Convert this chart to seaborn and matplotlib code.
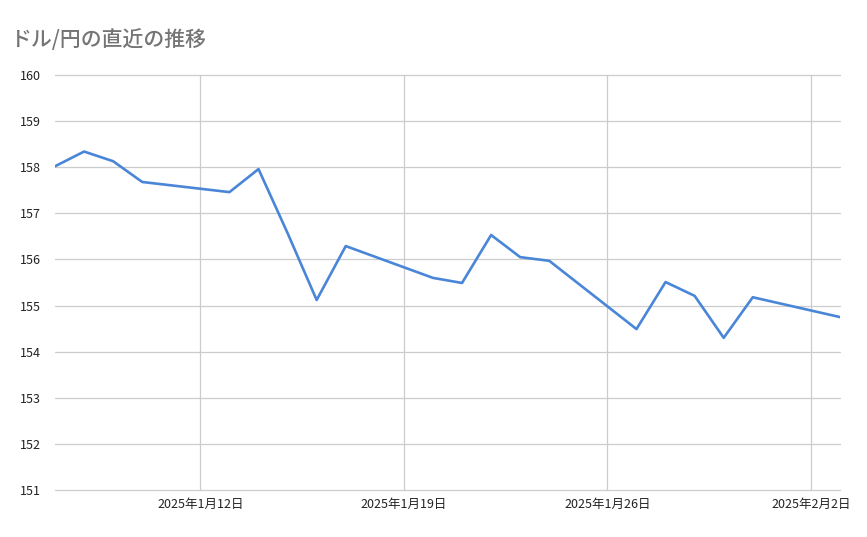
import matplotlib
matplotlib.use('Agg')
import matplotlib.pyplot as plt
import numpy as np
import pandas as pd
import seaborn as sns

# ── Data ─────────────────────────────────────────────────────────────────
dates = ['2025-01-07', '2025-01-08', '2025-01-09', '2025-01-10',
         '2025-01-13', '2025-01-14', '2025-01-15', '2025-01-16', '2025-01-17',
         '2025-01-20', '2025-01-21', '2025-01-22', '2025-01-23', '2025-01-24',
         '2025-01-27', '2025-01-28', '2025-01-29', '2025-01-30', '2025-01-31',
         '2025-02-03']
rates = [158.02, 158.34, 158.13, 157.68,
         157.46, 157.96, 156.57, 155.12, 156.29,
         155.60, 155.49, 156.53, 156.05, 155.97,
         154.49, 155.51, 155.21, 154.30, 155.18,
         154.75]
tick_dates = ['2025-01-12', '2025-01-19', '2025-01-26', '2025-02-02']
tick_labels = ['2025年1月12日', '2025年1月19日', '2025年1月26日', '2025年2月2日']
y_ticks = list(range(151, 161))

df = pd.DataFrame({'date': pd.to_datetime(dates), 'rate': rates})

# ── Style ────────────────────────────────────────────────────────────────
BLUE = '#4a86d8'
GRID = '#cccccc'
sns.set_theme(style='white')
plt.rcParams['font.family'] = ['Noto Sans CJK JP', 'DejaVu Sans']

fig = plt.figure(figsize=(8.67, 5.37), dpi=100)
ax = fig.add_axes([55 / 867, 1 - 490 / 537, 785 / 867, 415 / 537])

sns.lineplot(data=df, x='date', y='rate', color=BLUE, lw=1.9, ax=ax)

ax.set_xlim(pd.Timestamp(dates[0]), pd.Timestamp(dates[-1]))
ax.set_ylim(151, 160)
ax.set_yticks(y_ticks)
ax.set_yticklabels([str(v) for v in y_ticks], fontsize=9, color='#222222')
ax.set_xticks(pd.to_datetime(tick_dates))
ax.set_xticklabels(tick_labels, fontsize=9, color='#222222')
ax.grid(True, color=GRID, lw=0.9)
for gl in ax.get_ygridlines() + ax.get_xgridlines():
    gl.set_clip_on(False)
ax.set_axisbelow(True)
for s in ax.spines.values():
    s.set_visible(False)
ax.tick_params(axis='both', length=0)
ax.tick_params(axis='y', pad=10)
ax.tick_params(axis='x', pad=6)
ax.set_xlabel('')
ax.set_ylabel('')

fig.text(10 / 867, 1 - 40 / 537, 'ドル/円の直近の推移', fontsize=15,
         color='#757575', fontweight='medium', va='center', ha='left')

plt.savefig('out.png', dpi=100)
plt.close()
